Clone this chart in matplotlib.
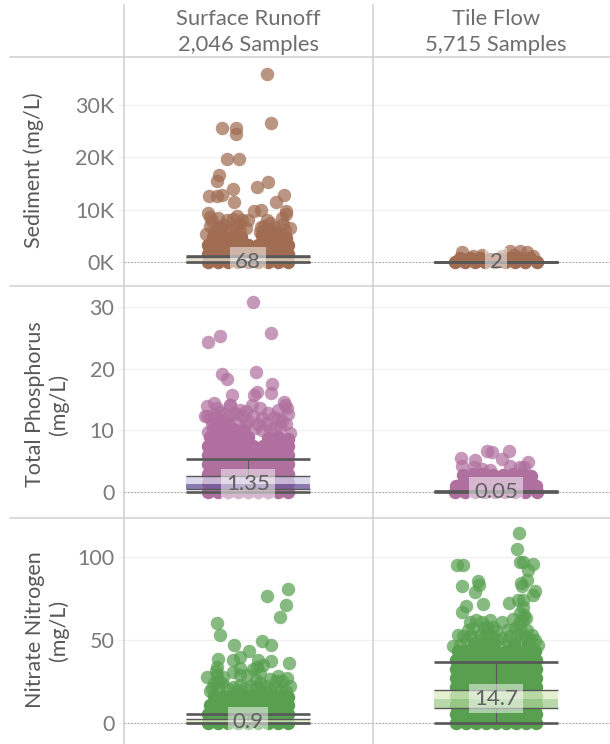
import matplotlib
matplotlib.use("Agg")
import matplotlib.pyplot as plt
from matplotlib.lines import Line2D

plt.rcParams["font.family"] = ["Lato", "DejaVu Sans"]

W, H = 610, 744

headers = ["Surface Runoff\n2,046 Samples", "Tile Flow\n5,715 Samples"]
row_titles = ["Sediment (mg/L)", "Total Phosphorus\n(mg/L)", "Nitrate Nitrogen\n(mg/L)"]

sed_ticks = [0, 10, 20, 30]
sed_tick_labels = ["0K", "10K", "20K", "30K"]
tp_ticks = [0, 10, 20, 30]
no3_ticks = [0, 50, 100]

# pairs are (jitter, value); sediment is in thousands of mg/L
sed_surface_loose = [(19, 35.9), (23, 26.6), (-26, 25.6), (-12, 25.6), (-12, 24.4), (-21, 19.7), (-9, 19.7),
                     (-29, 16.7), (-31, 15.5), (20, 15.3), (9, 14.3), (-15, 13.9), (36, 12.8), (-26, 12.8),
                     (-31, 12.6), (-39, 12.6), (-14, 11.5), (28, 11.5), (38, 9.8), (13, 10.0), (6, 9.8),
                     (-40, 9.5), (-11, 8.8), (38, 9.3), (-38, 8.6), (-30, 8.4), (-21, 8.0), (0, 8.0), (-6, 8.0),
                     (19, 8.0), (35, 7.3), (42, 6.5), (-42, 5.5), (-38, 7.0), (-28, 6.8), (-12, 7.0), (16, 7.0),
                     (26, 6.8), (-34, 6.0), (-18, 6.0), (30, 5.8), (-9, 7.4), (-24, 7.2), (-36, 7.8), (22, 7.5),
                     (13, 6.8), (-15, 8.2), (34, 8.4), (-2, 6.6), (-30, 6.4), (-22, 6.2), (-8, 6.0), (18, 6.2),
                     (12, 5.8), (24, 6.0), (37, 6.2)]
sed_surface_core = [(-40, 0), (-30, 0), (-20, 0), (-10, 0), (0, 0), (10, 0), (20, 0), (30, 0), (40, 0),
                    (-40, 1.7), (-35, 1.7), (-25, 1.7), (-15, 1.7), (-5, 1.7), (5, 1.7), (15, 1.7), (25, 1.7), (35, 1.7), (40, 1.7),
                    (-40, 3.4), (-30, 3.4), (-20, 3.4), (-10, 3.4), (0, 3.4), (10, 3.4), (20, 3.4), (30, 3.4), (40, 3.4),
                    (-35, 4.8), (-25, 4.8), (-15, 4.8), (-7, 4.8), (14, 5.2), (22, 5.2), (30, 5.0), (38, 4.6)]

sed_tile_loose = [(-34, 2.0), (14, 2.1), (24, 2.1), (31, 1.9), (37, 1.3), (-23, 1.3), (-14, 1.4), (6, 1.2), (18, 1.5)]
sed_tile_core = [(-41, 0), (-31, 0), (-21, 0), (-11, 0), (-1, 0), (9, 0), (19, 0), (29, 0), (41, 0),
                 (-36, 0.8), (-26, 0.8), (-16, 0.8), (-6, 0.6), (4, 0.6), (14, 0.8), (24, 0.8), (34, 0.8)]

tp_surface_loose = [(5, 30.8), (23, 25.8), (-28, 25.4), (-40, 24.4), (8, 19.5), (-26, 19.2), (-21, 18.3), (24, 17.5),
                    (23, 16.1), (9, 16.2), (6, 15.7), (-16, 15.7), (4, 14.2), (-18, 14.1), (36, 14.7), (39, 13.7),
                    (37, 14.2), (-34, 14.5), (-41, 13.9), (-31, 13.7), (20, 12.9), (30, 13.4), (-11, 12.7), (5, 12.3),
                    (-38, 12.1), (-25, 12.6), (-5, 12.3), (-43, 12.3), (34, 11.5), (14, 12.0), (-41, 12.3),
                    (-18, 14.2), (-31, 11.0), (-3, 10.9), (7, 10.4), (27, 10.4), (42, 9.6), (-40, 9.8), (-24, 11.5),
                    (-12, 11.2), (18, 11.0), (0, 11.5), (-36, 11.0), (38, 11.0), (-28, 13.0), (-14, 12.8), (-8, 13.4),
                    (12, 13.6), (26, 12.2), (-34, 12.4), (-20, 12.2), (10, 11.0), (22, 10.2), (32, 10.8), (40, 12.6),
                    (14, 10.0), (30, 11.8), (-2, 13.2)]
tp_surface_core = [(-40, 0), (-30, 0), (-20, 0), (-10, 0), (0, 0), (10, 0), (20, 0), (30, 0), (40, 0),
                   (-40, 1.5), (-35, 1.5), (-25, 1.5), (-15, 1.5), (-5, 1.5), (5, 1.5), (15, 1.5), (25, 1.5), (35, 1.5), (40, 1.5),
                   (-40, 3.0), (-30, 3.0), (-20, 3.0), (-10, 3.0), (0, 3.0), (10, 3.0), (20, 3.0), (30, 3.0), (40, 3.0),
                   (-40, 4.5), (-35, 4.5), (-25, 4.5), (-15, 4.5), (-5, 4.5), (5, 4.5), (15, 4.5), (25, 4.5), (35, 4.5), (40, 4.5),
                   (-40, 6.0), (-30, 6.0), (-20, 6.0), (-10, 6.0), (0, 6.0), (10, 6.0), (20, 6.0), (30, 6.0), (40, 6.0),
                   (-40, 7.5), (-35, 7.5), (-25, 7.5), (-15, 7.5), (-5, 7.5), (5, 7.5), (15, 7.5), (25, 7.5), (35, 7.5), (40, 7.5),
                   (-38, 9.0), (-30, 9.0), (-20, 9.0), (-10, 9.0), (0, 9.0), (20, 8.8), (30, 9.0), (40, 8.6),
                   (-35, 10.3), (-25, 10.3), (-15, 10.3), (-5, 10.0), (-20, 11.0), (-30, 11.6)]

tp_tile_loose = [(-35, 5.5), (-21, 5.2), (-9, 6.7), (-4, 6.5), (13, 6.7), (6, 5.4), (32, 4.9), (24, 4.0), (-22, 4.0),
                 (-34, 4.2), (-14, 3.8), (14, 4.2), (28, 4.0), (-6, 3.6)]
tp_tile_core = [(-41, 0), (-31, 0), (-21, 0), (-11, 0), (-1, 0), (9, 0), (19, 0), (29, 0), (41, 0),
                (-40, 1.0), (-35, 1.2), (-25, 1.4), (-15, 1.4), (-5, 1.4), (5, 1.4), (15, 1.4), (25, 1.4), (35, 1.2), (40, 0.9),
                (-33, 2.8), (-23, 2.9), (-13, 2.9), (-3, 2.8), (7, 2.8), (17, 2.9), (27, 2.9), (35, 2.6)]

no3_surface_loose = [(40, 80.7), (19, 76.3), (38, 70.7), (32, 63.9), (-31, 60.0), (-28, 53.0), (14, 49.4), (23, 46.8),
                     (-14, 46.8), (1, 43.0), (-8, 39.8), (-15, 37.8), (-30, 38.4), (23, 37.3), (41, 36.0), (10, 38.0),
                     (-31, 33.5), (9, 33.5), (15, 34.9), (-8, 32.9), (-15, 30.9), (5, 32.5), (-41, 27.9), (-31, 28.9),
                     (-25, 27.9), (-8, 28.9), (-1, 28.9), (12, 30.0), (22, 26.5), (30, 28.3), (39, 27.0), (-34, 24.0),
                     (-26, 24.0), (12, 24.0), (42, 22.3), (-36, 21.0), (-15, 21.9), (-3, 21.0), (9, 21.9), (27, 21.9),
                     (34, 25.0), (-30, 21.5), (18, 22.0), (-30, 25.5), (-32, 31.0), (-20, 20.5), (-8, 23.0), (3, 22.5),
                     (33, 20.5), (22, 20.0), (-38, 19.0), (38, 19.5), (-10, 19.5), (14, 19.5), (28, 25.5), (8, 26.0)]
no3_surface_core = [(-40, 0), (-30, 0), (-20, 0), (-10, 0), (0, 0), (10, 0), (20, 0), (30, 0), (40, 0),
                    (-40, 5.4), (-35, 5.4), (-25, 5.4), (-15, 5.4), (-5, 5.4), (5, 5.4), (15, 5.4), (25, 5.4), (35, 5.4), (40, 5.4),
                    (-38, 10.8), (-30, 10.8), (-20, 10.8), (-10, 10.8), (0, 10.8), (10, 10.8), (20, 10.8), (30, 10.8), (40, 10.8),
                    (-34, 16.2), (-25, 16.2), (-15, 16.2), (-5, 17.0), (5, 17.0), (15, 16.6), (25, 16.2), (35, 16.2), (40, 15.5)]

no3_tile_loose = [(23, 114.3), (21, 104.8), (-39, 94.8), (-33, 94.8), (24, 96.6), (37, 95.8), (32, 92.2), (27, 96.6),
                  (-18, 85.1), (-17, 82.7), (-34, 82.3), (-21, 78.5), (31, 85.7), (25, 84.1), (26, 82.1), (39, 79.1),
                  (37, 77.1), (-13, 71.5), (13, 72.3), (27, 74.1), (22, 74.1), (-30, 70.1), (-34, 66.7), (27, 69.7),
                  (24, 66.0), (-26, 61.0), (30, 63.0), (-14, 61.0), (-6, 62.0), (6, 61.0), (17, 62.4), (-23, 57.0),
                  (-9, 58.0), (19, 57.0), (31, 56.0), (-16, 53.0), (-8, 54.0), (6, 51.0), (-33, 52.0), (39, 50.0),
                  (29, 52.0), (-36, 47.0), (-43, 46.0), (-25, 52.0), (0, 55.0), (14, 52.0), (24, 50.0), (42, 47.0),
                  (-20, 62.0), (-12, 57.0), (-3, 58.0), (23, 60.0), (28, 65.0), (-28, 56.0), (-18, 50.0), (12, 56.0),
                  (36, 53.0), (-38, 53.0), (25, 56.0), (-4, 52.0), (-30, 50.0), (34, 50.0), (12, 48.5), (27, 62.0),
                  (-11, 52.0), (2, 50.0), (21, 53.0)]
no3_tile_core = [(-40, 0), (-30, 0), (-20, 0), (-10, 0), (0, 0), (10, 0), (20, 0), (30, 0), (40, 0),
                 (-40, 5.4), (-35, 5.4), (-25, 5.4), (-15, 5.4), (-5, 5.4), (5, 5.4), (15, 5.4), (25, 5.4), (35, 5.4), (40, 5.4),
                 (-40, 10.8), (-30, 10.8), (-20, 10.8), (-10, 10.8), (0, 10.8), (10, 10.8), (20, 10.8), (30, 10.8), (40, 10.8),
                 (-40, 16.2), (-35, 16.2), (-25, 16.2), (-15, 16.2), (-5, 16.2), (5, 16.2), (15, 16.2), (25, 16.2), (35, 16.2), (40, 16.2),
                 (-40, 21.6), (-30, 21.6), (-20, 21.6), (-10, 21.6), (0, 21.6), (10, 21.6), (20, 21.6), (30, 21.6), (40, 21.6),
                 (-40, 27), (-35, 27), (-25, 27), (-15, 27), (-5, 27), (5, 27), (15, 27), (25, 27), (35, 27), (40, 27),
                 (-40, 32.4), (-30, 32.4), (-20, 32.4), (-10, 32.4), (0, 32.4), (10, 32.4), (20, 32.4), (30, 32.4), (40, 32.4),
                 (-40, 37.8), (-35, 37.8), (-25, 37.8), (-15, 37.8), (-5, 37.8), (5, 37.8), (15, 37.8), (25, 37.8), (35, 37.8), (40, 37.8),
                 (-38, 43.2), (-30, 43.2), (-20, 43.2), (-10, 43.2), (0, 43.2), (10, 43.2), (20, 43.2), (30, 43.2), (39, 43.2),
                 (-22, 47.5), (-12, 48.0), (-2, 48.0), (18, 47.5), (32, 47.5)]

# low whisker, q1, median, q3, high whisker
sed_surface_stats = [0, 0.01, 0.068, 1.0, 1.15]
sed_tile_stats = [0, 0.0, 0.002, 0.01, 0.02]
tp_surface_stats = [0, 0.55, 1.35, 2.55, 5.4]
tp_tile_stats = [0, 0.01, 0.05, 0.15, 0.2]
no3_surface_stats = [0, 0.1, 0.9, 2.4, 5.6]
no3_tile_stats = [0, 8.9, 14.7, 19.9, 36.6]

value_labels = [["68", "2"], ["1.35", "0.05"], ["0.9", "14.7"]]

colors = ["#a06c52", "#b0709f", "#58a050"]
band_up = ["#e8dccb", "#d2cde6", "#dcebc0"]
band_low = ["#b8a090", "#6f5a9c", "#a8d096"]

panels = [
    [(sed_surface_loose, sed_surface_core, sed_surface_stats), (sed_tile_loose, sed_tile_core, sed_tile_stats)],
    [(tp_surface_loose, tp_surface_core, tp_surface_stats), (tp_tile_loose, tp_tile_core, tp_tile_stats)],
    [(no3_surface_loose, no3_surface_core, no3_surface_stats), (no3_tile_loose, no3_tile_core, no3_tile_stats)],
]
row_edges = [(57, 286.5), (286.5, 517.5), (517.5, 744)]
col_edges = [(124, 372), (372, 610)]
x_ranges = [(-124, 124), (-124, 114)]
y_ranges = [(-4.58, 39.12), (-4.15, 33.4), (-12.6, 123.5)]
y_ticks = [sed_ticks, tp_ticks, no3_ticks]
y_tick_texts = [sed_tick_labels, [str(t) for t in tp_ticks], [str(t) for t in no3_ticks]]

GRAY = "#585858"
SEP = "#cfcfcf"

fig = plt.figure(figsize=(W / 100, H / 100), dpi=100)

for r in range(3):
    for c in range(2):
        x0, x1 = col_edges[c]
        y0, y1 = row_edges[r]
        ax = fig.add_axes([x0 / W, 1 - y1 / H, (x1 - x0) / W, (y1 - y0) / H])
        ax.set_xlim(x_ranges[c])
        ax.set_ylim(y_ranges[r])
        ax.set_xticks([])
        ax.set_yticks(y_ticks[r])
        ax.grid(axis="y", color="#f1f1f1", lw=1.0, zorder=0)
        ax.set_axisbelow(True)
        for s in ax.spines.values():
            s.set_visible(False)
        if c == 0:
            ax.set_yticklabels(y_tick_texts[r], fontsize=15.5, color="#7a7a7a")
            ax.tick_params(axis="y", length=4, color="#f1f1f1", pad=3)
        else:
            ax.tick_params(axis="y", length=0, labelleft=False)

        ax.axhline(0, color="#aaaaaa", lw=0.8, ls=(0, (1.5, 1.5)), zorder=1)

        loose, core, stats = panels[r][c]
        ax.scatter([p[0] for p in loose], [p[1] for p in loose], s=94, color=colors[r], alpha=0.72,
                   linewidths=0, zorder=2, clip_on=False)
        ax.scatter([p[0] for p in core], [p[1] for p in core], s=94, color=colors[r],
                   linewidths=0, zorder=3, clip_on=False)

        lo, q1, med, q3, hi = stats
        ax.fill_between([-62, 62], med, q3, color=band_up[r], alpha=0.75, lw=0, zorder=4)
        ax.fill_between([-62, 62], q1, med, color=band_low[r], alpha=0.8, lw=0, zorder=4)
        ax.plot([0, 0], [lo, q1], color=GRAY, lw=0.8, zorder=5)
        ax.plot([0, 0], [q3, hi], color=GRAY, lw=0.8, zorder=5)
        ax.plot([-62, 62], [q1, q1], color=GRAY, lw=1.0, zorder=5, solid_capstyle="butt")
        ax.plot([-62, 62], [q3, q3], color=GRAY, lw=1.0, zorder=5, solid_capstyle="butt")
        ax.plot([-62, 62], [lo, lo], color=GRAY, lw=1.9, zorder=5, solid_capstyle="butt")
        ax.plot([-62, 62], [hi, hi], color=GRAY, lw=1.9, zorder=5, solid_capstyle="butt")
        ax.text(0, med, value_labels[r][c], ha="center", va="center", fontsize=16, color="#606060", zorder=6,
                bbox=dict(boxstyle="square,pad=0.22", fc="white", ec="none", alpha=0.5))

# header text and row titles
fig.text(248 / W, 1 - 32 / H, headers[0], ha="center", va="center", fontsize=15.8, color="#6e6e6e", linespacing=1.36)
fig.text(496 / W, 1 - 32 / H, headers[1], ha="center", va="center", fontsize=15.8, color="#6e6e6e", linespacing=1.36)
title_centers = [(34, 170), (47, 404), (47, 630)]
for (tx, ty), title in zip(title_centers, row_titles):
    fig.text(tx / W, 1 - ty / H, title, rotation=90, ha="center", va="center", fontsize=15.5, color=GRAY,
             linespacing=1.15, multialignment="center")

# table rules
for y in [57, 286.5, 517.5]:
    fig.add_artist(Line2D([10 / W, 1], [1 - y / H, 1 - y / H], color=SEP, lw=1.1))
for x in [124, 372.5]:
    fig.add_artist(Line2D([x / W, x / W], [0, 1 - 5 / H], color=SEP, lw=1.1))

fig.savefig("out.png", dpi=100)
